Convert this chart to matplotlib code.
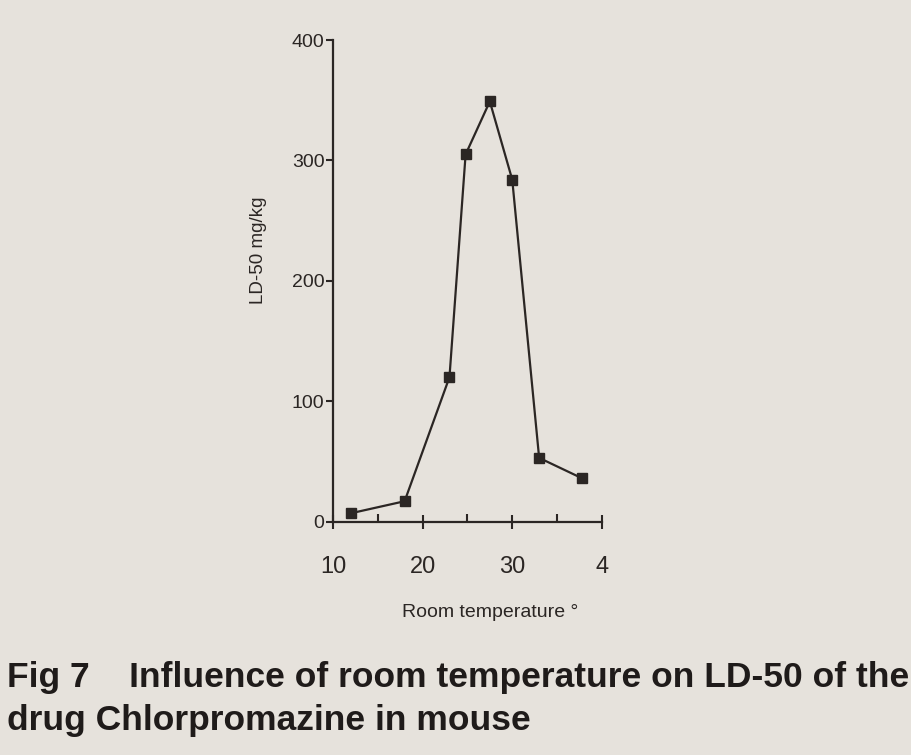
import matplotlib
matplotlib.use("Agg")
import matplotlib.pyplot as plt
from matplotlib.ticker import MultipleLocator

# room temperature vs LD-50
temperatura = [12, 18, 23, 24.8, 27.5, 30, 33, 37.8]
ld50 = [7, 17, 120, 305, 349, 284, 53, 36]

x_ticks = [10, 20, 30, 40]
x_tick_labels = ["10", "20", "30", "4"]
y_ticks = [0, 100, 200, 300, 400]

paper = "#e6e2dc"
ink = "#2b2624"

plt.rcParams['font.family'] = ['Liberation Sans', 'DejaVu Sans']

fig = plt.figure(figsize=(9.12, 7.55), dpi=100, facecolor=paper)
ax = fig.add_axes([0.365, 0.309, 0.295, 0.638])
ax.set_facecolor(paper)

ax.plot(temperatura, ld50, color=ink, linewidth=1.6, marker='s', markersize=6.5,
        markerfacecolor=ink, markeredgecolor=ink, clip_on=False)

ax.set_xlim(10, 40)
ax.set_ylim(0, 400)
ax.spines['top'].set_visible(False)
ax.spines['right'].set_visible(False)
for side in ['left', 'bottom']:
    ax.spines[side].set_color(ink)
    ax.spines[side].set_linewidth(1.6)

ax.set_xticks(x_ticks)
ax.set_xticklabels(x_tick_labels, fontsize=17, color=ink)
ax.xaxis.set_minor_locator(MultipleLocator(5))
ax.tick_params(axis='x', which='major', direction='inout', length=10, width=1.5,
               color=ink, pad=20)
ax.tick_params(axis='x', which='minor', direction='in', length=6, width=1.5, color=ink)

ax.set_yticks(y_ticks)
ax.set_yticklabels([str(v) for v in y_ticks], fontsize=14, color=ink)
ax.tick_params(axis='y', direction='out', length=5, width=1.5, color=ink, pad=1)

fig.text(0.283, 0.669, "LD-50 mg/kg", rotation=90, fontsize=13.5, color=ink,
         ha='center', va='center')
fig.text(0.537, 0.189, "Room temperature \u00b0", fontsize=14, color=ink,
         ha='center', va='center')

fig.text(0.008, 0.102, "Fig 7    Influence of room temperature on LD-50 of the",
         fontsize=25.5, fontweight='bold', color='#1f1b1a',
         ha='left', va='center')
fig.text(0.008, 0.046, "drug Chlorpromazine in mouse",
         fontsize=25.5, fontweight='bold', color='#1f1b1a',
         ha='left', va='center')

fig.savefig("out.png", dpi=100, facecolor=paper)
